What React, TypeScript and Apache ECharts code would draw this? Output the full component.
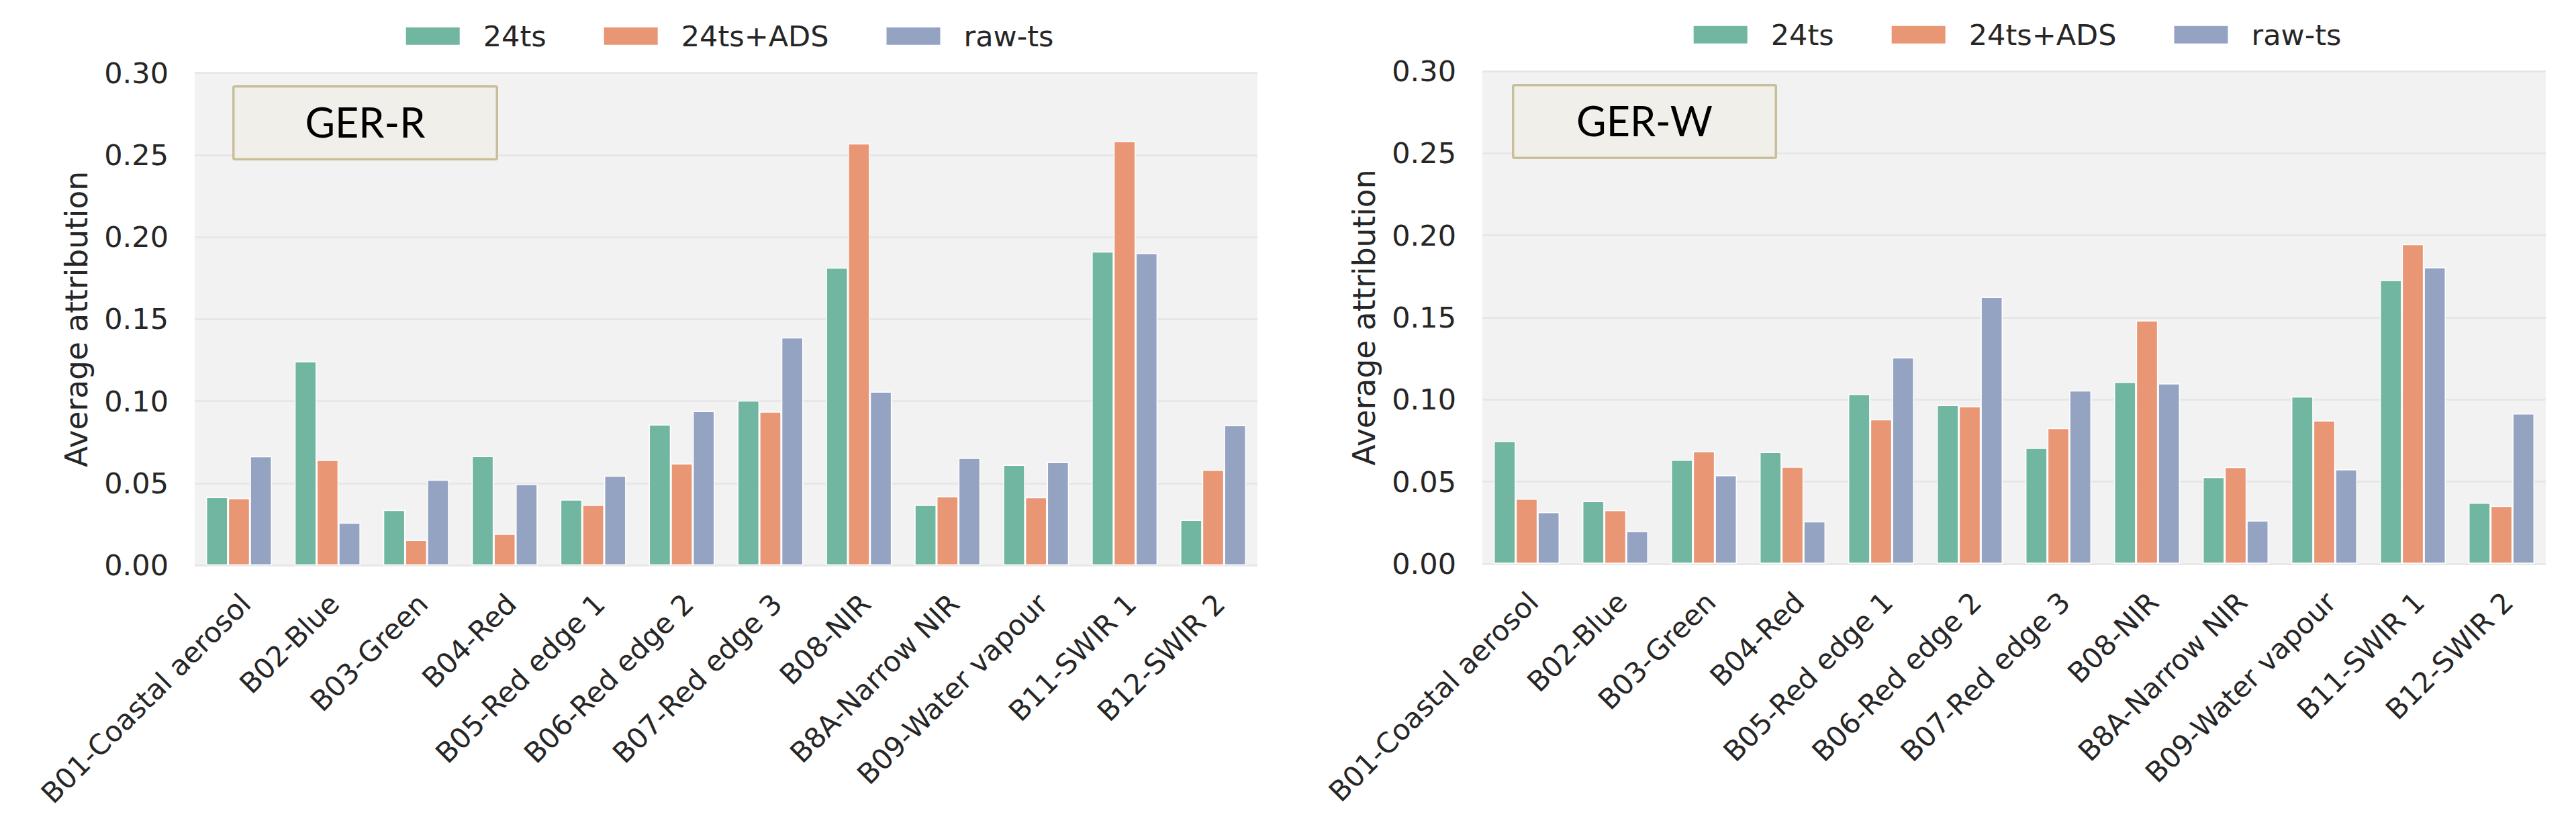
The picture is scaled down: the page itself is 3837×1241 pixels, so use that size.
import React, { useEffect, useRef } from 'react';
import * as echarts from 'echarts';

const categories = [
  'B01-Coastal aerosol', 'B02-Blue', 'B03-Green', 'B04-Red', 'B05-Red edge 1', 'B06-Red edge 2',
  'B07-Red edge 3', 'B08-NIR', 'B8A-Narrow NIR', 'B09-Water vapour', 'B11-SWIR 1', 'B12-SWIR 2',
];
const seriesNames = ['24ts', '24ts+ADS', 'raw-ts'];
const seriesColors = ['#71b6a0', '#e99675', '#95a3c3'];
const yTicks = [0, 0.05, 0.1, 0.15, 0.2, 0.25, 0.3];

const gerR_24ts = [0.0416, 0.1243, 0.0338, 0.0666, 0.0401, 0.0858, 0.1004, 0.1813, 0.0368, 0.0612, 0.1911, 0.0277];
const gerR_ads = [0.0409, 0.0642, 0.0155, 0.0192, 0.0368, 0.0621, 0.0936, 0.2570, 0.0420, 0.0415, 0.2584, 0.0582];
const gerR_raw = [0.0665, 0.0260, 0.0521, 0.0495, 0.0546, 0.0940, 0.1388, 0.1058, 0.0654, 0.0629, 0.1902, 0.0854];

const gerW_24ts = [0.0748, 0.0382, 0.0633, 0.0680, 0.1034, 0.0966, 0.0706, 0.1107, 0.0528, 0.1018, 0.1728, 0.0371];
const gerW_ads = [0.0396, 0.0326, 0.0685, 0.0591, 0.0879, 0.0959, 0.0826, 0.1482, 0.0589, 0.0872, 0.1947, 0.0352];
const gerW_raw = [0.0314, 0.0199, 0.0539, 0.0258, 0.1257, 0.1625, 0.1055, 0.1098, 0.0263, 0.0575, 0.1806, 0.0915];

const W = 3837;
const H = 1241;
const TEXT = '#262626';
const FONT = 'DejaVu Sans';
const FS = 43;

const panels = [
  { title: 'GER-R', left: 290, right: 1873, top: 108.5, bottom: 842.3, legendLeft: 602.7, legendTop: 32.3, box: [346, 127, 742, 239], data: [gerR_24ts, gerR_ads, gerR_raw] },
  { title: 'GER-W', left: 2208, right: 3792, top: 106.2, bottom: 839.8, legendLeft: 2520.7, legendTop: 30.3, box: [2252, 125, 2647, 237], data: [gerW_24ts, gerW_ads, gerW_raw] },
];

function buildOption() {
  const grid: any[] = [];
  const xAxis: any[] = [];
  const yAxis: any[] = [];
  const series: any[] = [];
  const legend: any[] = [];
  const graphic: any[] = [];
  const LABEL_SHIFT = 10;

  panels.forEach((p, i) => {
    const width = p.right - p.left;
    const height = p.bottom - p.top;
    grid.push({ left: p.left, top: p.top, width, height, show: true, backgroundColor: '#f2f2f2', borderWidth: 0 });
    grid.push({ left: p.left + LABEL_SHIFT, top: p.top, width, height, show: false });

    xAxis.push({
      type: 'category', gridIndex: 2 * i, data: categories,
      axisLine: { show: false }, axisTick: { show: false }, axisLabel: { show: false }, splitLine: { show: false },
    });
    xAxis.push({
      type: 'category', gridIndex: 2 * i + 1, data: categories,
      axisLine: { show: false }, axisTick: { show: false }, splitLine: { show: false },
      axisLabel: { rotate: 45, interval: 0, margin: 50, fontSize: 42, color: TEXT, fontFamily: FONT },
    });
    yAxis.push({
      type: 'value', gridIndex: 2 * i, min: yTicks[0], max: yTicks[yTicks.length - 1], interval: 0.05,
      axisLine: { show: false }, axisTick: { show: false },
      axisLabel: { fontSize: FS, color: TEXT, fontFamily: FONT, margin: 39, formatter: (v: number) => v.toFixed(2) },
      splitLine: { show: true, lineStyle: { color: '#e5e5e5', width: 2.5 } },
      name: 'Average attribution', nameLocation: 'middle', nameGap: 153,
      nameTextStyle: { fontSize: 45.5, color: TEXT, fontFamily: FONT },
    });
    yAxis.push({ type: 'value', gridIndex: 2 * i + 1, min: 0, max: 0.3, show: false });

    seriesNames.forEach((name, k) => {
      series.push({
        type: 'bar', name, xAxisIndex: 2 * i, yAxisIndex: 2 * i, data: p.data[k],
        barGap: '0%', barCategoryGap: '25.7%',
        itemStyle: { color: seriesColors[k], borderColor: '#ffffff', borderWidth: 1.5 },
      });
    });

    legend.push({
      left: p.legendLeft, top: p.legendTop, padding: 0, itemWidth: 82, itemHeight: 28, itemGap: 84, icon: 'rect',
      data: seriesNames,
      formatter: (name: string) => '{t|' + name + '}',
      textStyle: {
        fontSize: FS, color: TEXT, fontFamily: FONT, lineHeight: 28,
        rich: { t: { fontSize: FS, color: TEXT, fontFamily: FONT, lineHeight: 28, padding: [0, 0, 0, 29] } },
      },
    });

    const [x0, y0, x1, y1] = p.box;
    const lw = 3.5;
    graphic.push({
      type: 'rect', z: 100,
      shape: { x: x0 + lw / 2, y: y0 + lw / 2, width: x1 - x0 - lw, height: y1 - y0 - lw, r: 2 },
      style: { fill: '#f0efea', stroke: '#c8bf99', lineWidth: lw },
    });
    graphic.push({
      type: 'text', z: 101, x: (x0 + x1) / 2, y: (y0 + y1) / 2 - 2,
      style: { text: p.title, fontSize: 61, fontFamily: 'Lato', fill: '#000000', align: 'center', verticalAlign: 'middle' },
    });
  });

  return { animation: false, backgroundColor: '#ffffff', grid, xAxis, yAxis, series, legend, graphic };
}

export default function App() {
  const ref = useRef<HTMLDivElement>(null);
  useEffect(() => {
    if (!ref.current) return;
    const chart = echarts.init(ref.current, null, { renderer: 'svg' });
    chart.setOption(buildOption() as any);
    return () => chart.dispose();
  }, []);
  return <div ref={ref} style={{ position: 'fixed', left: 0, top: 0, width: W, height: H, background: '#fff' }} />;
}
